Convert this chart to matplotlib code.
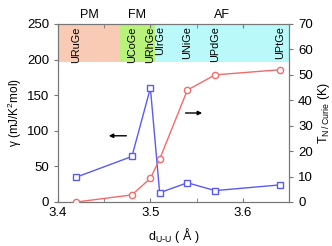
import matplotlib.pyplot as plt
from matplotlib.patches import Rectangle

plt.rcParams['font.family'] = ['Liberation Sans', 'DejaVu Sans']
plt.rcParams['mathtext.default'] = 'regular'

d_uu = [3.42, 3.48, 3.50, 3.51, 3.54, 3.57, 3.64]
gamma = [35, 64, 160, 13, 27, 16, 24]
t_order = [0, 2.8, 9.3, 16.8, 44, 50, 52]
compounds = ['URuGe', 'UCoGe', 'URhGe', 'UIrGe', 'UNiGe', 'UPdGe', 'UPtGe']

regions = ['PM', 'FM', 'AF']
region_edges = [3.40, 3.467, 3.505, 3.65]
region_colors = ['#f9cbb5', '#b9f27a', '#b9f9f9']

fig = plt.figure(figsize=(3.32, 2.46), dpi=100)
ax = fig.add_axes([58/332, 44/246, 231/332, 178/246])
ax2 = ax.twinx()

ax.set_xlim(3.40, 3.65)
ax.set_ylim(0, 250)
ax2.set_ylim(0, 70)

# coloured bands
for i in range(3):
    ax.add_patch(Rectangle((region_edges[i], 197), region_edges[i+1]-region_edges[i], 53,
                           facecolor=region_colors[i], edgecolor='none', zorder=0))
    ax.text((region_edges[i] + region_edges[i+1]) / 2, 254, regions[i], ha='center',
            va='bottom', fontsize=9)

for x, name in zip(d_uu, compounds):
    ax.text(x, 247, name, rotation=90, ha='center', va='top', fontsize=7.8)

ax.plot(d_uu, gamma, color='#5a5af5', marker='s', ms=4.5, mfc='white', mec='#5a5af5',
        lw=1, zorder=3)
ax2.plot(d_uu, t_order, color='#f56a6a', marker='o', ms=4.5, mfc='white', mec='#f56a6a',
         lw=1, zorder=3)

ax.annotate('', xy=(3.452, 93), xytext=(3.477, 93),
            arrowprops=dict(arrowstyle='-|>', color='black', lw=1, mutation_scale=6))
ax.annotate('', xy=(3.559, 125), xytext=(3.535, 125),
            arrowprops=dict(arrowstyle='-|>', color='black', lw=1, mutation_scale=6))

ax.set_xticks([3.4, 3.5, 3.6])
ax.set_xticks([3.45, 3.55], minor=True)
ax.set_yticks([0, 50, 100, 150, 200, 250])
ax2.set_yticks(range(0, 71, 10))

ax.tick_params(axis='x', direction='in', top=True, which='both', labelsize=9.5, color='#777777', length=3)
ax.tick_params(axis='y', direction='out', labelsize=9.5, color='#777777', length=3)
ax2.tick_params(axis='y', direction='out', labelsize=9.5, color='#777777', length=3)
for a in (ax, ax2):
    for s in a.spines.values():
        s.set_color('#777777')

ax.set_ylabel('γ (mJ/K$^2$mol)', fontsize=8.5, labelpad=2)
ax2.set_ylabel('T$_{N\\,/\\,Curie}$ (K)', fontsize=9, labelpad=2)
ax.set_xlabel('d$_{U\\text{-}U}$ ( Å )', fontsize=9, labelpad=5)

fig.savefig('out.png', dpi=100)
